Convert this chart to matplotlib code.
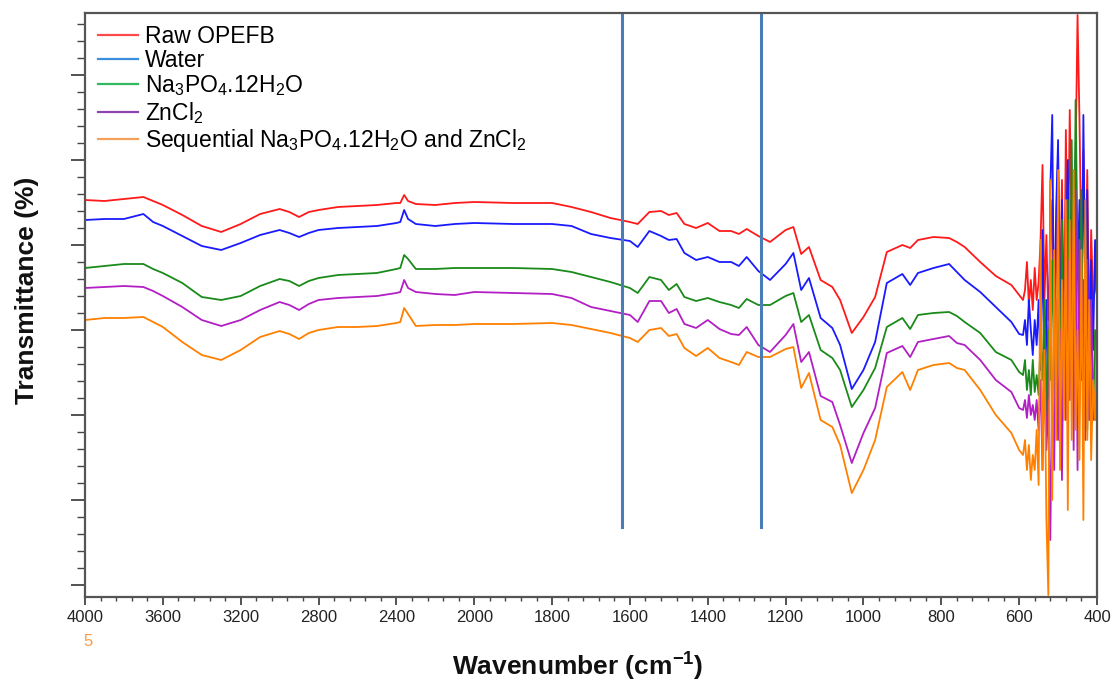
import numpy as np
import matplotlib
matplotlib.use("Agg")
import matplotlib.pyplot as plt
from matplotlib.lines import Line2D
from matplotlib.ticker import FixedLocator, MultipleLocator, NullFormatter

plt.rcParams['font.family'] = ['Liberation Sans', 'DejaVu Sans']
plt.rcParams['mathtext.fontset'] = 'custom'
plt.rcParams['mathtext.rm'] = 'Liberation Sans'
plt.rcParams['mathtext.it'] = 'Liberation Sans:italic'
plt.rcParams['mathtext.bf'] = 'Liberation Sans:bold'

# wavenumber grid (cm-1): smooth part, then the noisy low-wavenumber end
wn_main = [4000, 3900, 3800, 3700, 3650, 3600, 3500, 3400, 3300, 3200,
           3100, 3000, 2950, 2900, 2850, 2800, 2700, 2600, 2500, 2400,
           2380, 2360, 2340, 2300, 2200, 2100, 2000, 1900, 1800, 1750,
           1700, 1650, 1600, 1580, 1550, 1520, 1500, 1480, 1460, 1430,
           1400, 1370, 1340, 1320, 1300, 1270, 1240, 1200, 1180, 1160,
           1140, 1110, 1080, 1060, 1030, 1000, 970, 940, 900, 880,
           860, 820, 780, 760, 740, 700, 660, 620, 600]
wn_noise = list(np.arange(590, 399, -5))
wavenumber = np.array(wn_main + wn_noise, dtype=float)

# transmittance, arbitrary offset units (curves are stacked)
raw_opefb = [40.0, 39.9, 40.1, 40.3, 39.9, 39.5, 38.5, 37.4, 36.8, 37.6,
             38.6, 39.1, 38.8, 38.3, 38.8, 39.0, 39.3, 39.4, 39.5, 39.7,
             39.7, 40.5, 39.9, 39.6, 39.5, 39.7, 39.8, 39.7, 39.7, 39.3,
             38.8, 38.2, 37.8, 37.6, 38.8, 38.9, 38.5, 38.7, 37.6, 37.2,
             37.7, 36.9, 36.9, 36.6, 37.1, 36.4, 35.8, 37.0, 37.3, 34.6,
             35.3, 32.0, 31.3, 30.0, 26.7, 28.3, 30.3, 34.8, 35.5, 35.2,
             36.0, 36.3, 36.2, 35.8, 35.3, 33.8, 32.4, 31.5, 30.5,
             30.0, 31.0, 33.8, 29.5, 32.0, 29.0, 33.2, 30.0, 31.8, 36.0,
             43.5, 30.0, 36.5, 28.0, 34.0, 40.0, 27.0, 33.0, 45.0, 29.0,
             42.0, 25.0, 47.0, 32.0, 49.0, 36.0, 27.0, 44.0, 58.5, 48.0,
             34.0, 45.0, 30.0, 43.0, 26.0, 37.0, 30.0, 31.0, 35.0]
water = [38.0, 38.1, 38.1, 38.6, 37.8, 37.4, 36.4, 35.4, 35.0, 35.7,
         36.5, 37.0, 36.7, 36.3, 36.7, 37.0, 37.2, 37.3, 37.4, 37.7,
         37.8, 39.0, 38.1, 37.6, 37.4, 37.6, 37.7, 37.6, 37.6, 37.4,
         36.6, 36.2, 35.9, 35.3, 36.9, 36.4, 36.0, 36.1, 34.7, 34.0,
         34.3, 33.8, 33.8, 33.4, 34.3, 32.9, 32.0, 33.6, 34.7, 31.0,
         32.2, 28.2, 27.2, 25.5, 21.1, 23.0, 25.8, 31.7, 32.6, 31.5,
         32.7, 33.2, 33.6, 32.8, 32.0, 30.8, 29.3, 27.8, 26.6,
         26.5, 28.0, 25.5, 30.0, 27.0, 24.5, 28.0, 25.5, 30.0, 23.0,
         37.0, 22.0, 30.0, 18.0, 41.0, 48.5, 25.0, 39.0, 46.0, 22.0,
         40.0, 20.0, 35.0, 44.0, 27.0, 40.0, 23.0, 44.0, 32.0, 40.0,
         22.0, 48.5, 30.0, 41.0, 20.0, 34.0, 25.0, 36.0, 30.0]
na3po4 = [33.2, 33.4, 33.6, 33.6, 33.1, 32.7, 31.7, 30.3, 30.0, 30.4,
          31.4, 32.1, 31.9, 31.4, 31.9, 32.2, 32.5, 32.6, 32.7, 33.1,
          33.2, 34.5, 34.1, 33.1, 33.1, 33.2, 33.2, 33.2, 33.1, 32.8,
          32.3, 31.8, 31.2, 30.7, 32.3, 32.0, 31.0, 31.6, 30.3, 29.9,
          30.2, 29.8, 29.5, 29.2, 30.1, 29.5, 29.5, 30.4, 30.7, 27.8,
          28.5, 25.0, 24.2, 23.0, 19.3, 21.0, 23.2, 27.3, 28.2, 27.1,
          28.5, 28.7, 28.8, 28.4, 27.8, 26.7, 24.8, 24.0, 22.8,
          22.5, 24.0, 21.0, 23.0, 20.5, 24.0, 20.8, 22.5, 20.5, 26.0,
          22.0, 30.0, 18.0, 27.0, 22.0, 34.0, 24.0, 19.0, 35.0, 17.0,
          38.0, 22.0, 28.0, 40.0, 24.0, 46.0, 27.0, 50.0, 35.0, 22.0,
          41.0, 18.0, 32.0, 17.0, 30.0, 20.0, 18.0, 27.0, 22.0]
zncl2 = [31.2, 31.3, 31.4, 31.3, 30.9, 30.4, 29.3, 28.0, 27.4, 28.0,
         29.0, 29.8, 29.5, 29.0, 29.6, 30.0, 30.2, 30.3, 30.4, 30.7,
         30.8, 32.0, 31.2, 30.8, 30.6, 30.5, 30.8, 30.7, 30.6, 30.2,
         29.3, 28.9, 28.5, 27.8, 29.9, 29.9, 28.7, 29.1, 27.6, 27.2,
         28.0, 27.1, 26.6, 26.5, 27.3, 25.5, 24.8, 26.5, 27.6, 23.8,
         24.8, 20.4, 19.8, 17.5, 13.7, 16.7, 19.2, 24.7, 25.4, 24.3,
         25.8, 26.1, 26.4, 25.7, 25.5, 24.0, 22.0, 20.8, 19.2,
         19.0, 20.0, 18.2, 20.5, 18.5, 19.5, 18.0, 20.0, 17.0, 22.0,
         13.0, 25.0, 15.0, 20.0, 6.0, 22.0, 13.0, 30.0, 16.0, 27.0,
         12.0, 31.0, 18.0, 34.0, 20.0, 37.0, 15.0, 41.0, 13.0, 36.0,
         24.0, 32.0, 16.0, 34.0, 18.0, 30.0, 19.0, 18.0, 24.0]
sequential = [28.0, 28.2, 28.2, 28.3, 27.8, 27.3, 25.8, 24.5, 24.0, 25.0,
              26.3, 26.9, 26.6, 26.1, 26.7, 27.0, 27.3, 27.3, 27.4, 27.7,
              27.8, 29.2, 28.6, 27.4, 27.5, 27.5, 27.6, 27.6, 27.7, 27.5,
              27.1, 26.7, 26.2, 25.8, 27.0, 27.2, 26.4, 26.6, 25.2, 24.4,
              25.2, 24.2, 23.8, 23.5, 24.8, 24.3, 24.3, 25.1, 25.3, 21.2,
              22.7, 18.0, 17.3, 15.5, 10.7, 13.0, 16.0, 21.3, 22.8, 21.0,
              23.0, 23.5, 23.7, 23.2, 23.0, 21.0, 18.5, 16.7, 15.0,
              14.5, 16.0, 13.0, 15.5, 12.0, 14.5, 13.0, 17.0, 11.5, 36.0,
              13.0, 25.0, 8.0, 0.5, 42.0, 10.0, 35.0, 16.0, 43.0, 13.0,
              32.0, 18.0, 40.0, 9.0, 38.0, 16.0, 43.0, 17.0, 27.0, 14.0,
              35.0, 8.0, 40.0, 16.0, 30.0, 14.0, 22.0, 18.0, 27.0]

series = [raw_opefb, water, na3po4, zncl2, sequential]
labels = ['Raw OPEFB', 'Water', r'Na$_3$PO$_4$.12H$_2$O', r'ZnCl$_2$',
          r'Sequential Na$_3$PO$_4$.12H$_2$O and ZnCl$_2$']
line_colors = ['#ff1a1a', '#1a1aff', '#1a8a1a', '#b21fc4', '#ff8000']
legend_colors = ['#ff4a4a', '#3a8ede', '#33b862', '#8e44ad', '#f5a05a']

marker_wn = [1620, 1264]

# x axis is compressed by a factor of 2 above 2000 cm-1
def fwd(x):
    x = np.asarray(x, dtype=float)
    return np.where(x > 2000, 2000 + (x - 2000) / 2.0, x)

def inv(y):
    y = np.asarray(y, dtype=float)
    return np.where(y > 2000, 2000 + (y - 2000) * 2.0, y)

fig = plt.figure(figsize=(11.14, 6.81), dpi=100)
ax = fig.add_axes([85 / 1114, 84 / 681, 1012 / 1114, 584 / 681])
ax.set_xscale('function', functions=(fwd, inv))

for y, c in zip(series, line_colors):
    ax.plot(wavenumber, y, color=c, lw=1.3, solid_joinstyle='round')

for w in marker_wn:
    ax.axvline(w, ymin=0.12, ymax=1.0, color='#4a7db8', lw=2.2)

ax.set_xlim(4000, 400)
ax.set_ylim(0.3, 58.7)

major_x = [4000, 3600, 3200, 2800, 2400, 2000, 1800, 1600, 1400, 1200, 1000, 800, 600, 400]
minor_x = list(np.arange(4000, 2000, -80)) + list(np.arange(2000, 400, -40))
ax.xaxis.set_major_locator(FixedLocator(major_x))
ax.xaxis.set_minor_locator(FixedLocator(minor_x))
ax.set_xticklabels([str(v) for v in major_x])
ax.yaxis.set_major_locator(MultipleLocator(8.5, offset=1.5))
ax.yaxis.set_minor_locator(MultipleLocator(1.7, offset=1.5))
ax.yaxis.set_major_formatter(NullFormatter())

ax.tick_params(axis='x', which='major', direction='out', length=6, width=1.3,
               color='#444444', labelsize=12, labelcolor='#222222', pad=3)
ax.tick_params(axis='x', which='minor', direction='out', length=3, width=1.0, color='#444444')
ax.tick_params(axis='y', which='major', direction='out', length=10, width=1.3, color='#444444')
ax.tick_params(axis='y', which='minor', direction='out', length=6, width=1.0, color='#444444')
for s in ax.spines.values():
    s.set_color('#555555')
    s.set_linewidth(1.6)

handles = [Line2D([], [], color=c, lw=1.6) for c in legend_colors]
ax.legend(handles, labels, loc='upper left', bbox_to_anchor=(0.013, 0.98),
          frameon=False, fontsize=16.5, handlelength=1.75, handletextpad=0.3,
          labelspacing=0.06, borderpad=0, borderaxespad=0)

fig.text(578 / 1114, 1 - 667 / 681, r'Wavenumber (cm$^{\mathbf{-1}}$)',
         ha='center', va='center', fontsize=19, fontweight='bold', color='#111111')
fig.text(27 / 1114, 1 - 290 / 681, 'Transmittance (%)', rotation=90,
         ha='center', va='center', fontsize=19, fontweight='bold', color='#111111')
fig.text(88 / 1114, 1 - 642 / 681, '5', ha='center', va='center',
         fontsize=12, color='#ff9a40')

fig.savefig('out.png', dpi=100)
